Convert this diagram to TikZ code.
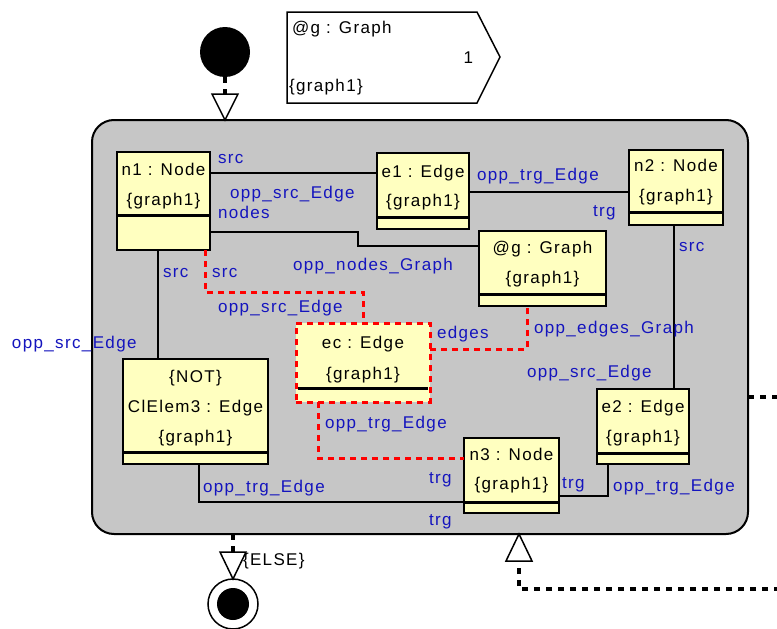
\documentclass[tikz,border=0pt]{standalone}
\usepackage{fontspec}
\newfontfamily\diafont{Liberation Sans}[LetterSpace=8]
\newcommand{\dfont}{\diafont\fontsize{17}{20}\selectfont}
\definecolor{boxyellow}{RGB}{255,255,192}
\definecolor{actgray}{RGB}{198,198,198}
\definecolor{lblue}{RGB}{20,20,190}
\begin{document}
\begin{tikzpicture}[x=1pt,y=-1pt,
 cls/.style={draw=black, line width=1.6pt, fill=boxyellow, inner sep=0pt, outer sep=0pt, anchor=north west},
 clsdash/.style={draw=red, line width=3pt, dash pattern=on 6pt off 5pt, fill=boxyellow, inner sep=0pt, outer sep=0pt, anchor=north west},
 divider/.style={line width=3pt},
 txt/.style={inner sep=0pt, outer sep=0pt, anchor=base, font=\dfont},
 lab/.style={inner sep=0pt, outer sep=0pt, anchor=base west, font=\dfont, text=lblue},
 conn/.style={line width=1.5pt},
 redconn/.style={draw=red, line width=3pt, dash pattern=on 6pt off 5pt},
 trans/.style={line width=3.5pt, dash pattern=on 6pt off 6pt},
 headtri/.style={draw, line width=1.5pt, fill=white, line join=miter}
]
\useasboundingbox (0,0) rectangle (777,629);
\fill[white] (0,0) rectangle (777,629);
\clip (0,0) rectangle (777,629);

% activity box
\node[draw, line width=2pt, fill=actgray, rounded corners=22pt, inner sep=0pt, outer sep=0pt,
  anchor=north west, minimum width=656pt, minimum height=414pt] (act) at (92,120) {};

% header
\draw[line width=1.5pt, fill=white] (287,12) -- (477,12) -- (500,57) -- (477,103) -- (287,103) -- cycle;
\node[txt, anchor=base west] (hg) at (292,34) {@g : Graph};
\node[txt, anchor=base east] (hn) at (473,63) {1};
\node[txt, anchor=base west] (hgr) at (289,91) {\{graph1\}};

% start
\node[circle, fill=black, minimum size=50pt, inner sep=0pt, outer sep=0pt] (start) at (225,52) {};
\coordinate (ta) at (start |- act.north);
\draw[trans] (start.south) -- ([yshift=26pt]ta);
\draw[headtri] (ta) -- ++(-13,-26) -- ++(26,0) -- cycle;

% end
\node[circle, draw, line width=1.5pt, fill=white, minimum size=50pt, inner sep=0pt, outer sep=0pt] (end) at (233,604) {};
\node[circle, fill=black, minimum size=32pt, inner sep=0pt] (endin) at (end) {};
\draw[trans] (end |- act.south) -- ([yshift=27pt]end.north);
\draw[headtri] (end.north) -- ++(-13,-27) -- ++(26,0) -- cycle;
\node[txt, anchor=base west] (else) at (243,565) {\{ELSE\}};

% loop transition on the right
\coordinate (ra) at (519,534);
\draw[trans] (act.east |- 0,397) -- (800,397) -- (800,589) -| ([yshift=-34pt]ra);
\draw[headtri] (ra) -- ++(-13,27) -- ++(26,0) -- cycle;

% class boxes
\node[cls, minimum width=93pt, minimum height=98pt] (n1) at (117,152) {};
\node[cls, minimum width=92pt, minimum height=76pt] (e1) at (377,153) {};
\node[cls, minimum width=94pt, minimum height=75pt] (n2) at (629,150) {};
\node[cls, minimum width=127pt, minimum height=75pt] (gr) at (479,231) {};
\node[cls, minimum width=145pt, minimum height=105pt] (cl) at (123,359) {};
\node[cls, minimum width=95pt, minimum height=75pt] (n3) at (464,438) {};
\node[cls, minimum width=92pt, minimum height=75pt] (e2) at (597,389) {};

% connectors
\draw[conn] ([yshift=-21pt]n1.north east) -- ([yshift=-20pt]e1.north west);
\draw[conn] ([yshift=18pt]n1.south east) -| (358,246) -- ([yshift=-15pt]gr.north west);
\draw[conn] ([yshift=-39pt]e1.north east) -- ([yshift=-42pt]n2.north west);
\draw[conn] ([xshift=-2pt]n2.south) -- ([xshift=31pt]e2.north);
\draw[conn] ([xshift=-35pt]e2.south) |- ([yshift=17pt]n3.south east);
\draw[conn] ([xshift=-5.5pt]n1.south) -- ([xshift=-37.5pt]cl.north);
\draw[conn] ([xshift=3.5pt]cl.south) |- ([yshift=11pt]n3.south west);

% ec box
\node[clsdash, minimum width=134pt, minimum height=79pt] (ec) at (296,323) {};

% red connectors
\draw[redconn] ([xshift=41.5pt]n1.south) -- ++(0,42) -| (ec.north);
\draw[redconn] ([yshift=-26pt]ec.north east) -| ([xshift=-15.5pt]gr.south);
\draw[redconn] ([xshift=-45pt]ec.south) |- ([yshift=-20pt]n3.north west);

% dividers
\draw[divider] ([yshift=35pt]n1.south west) -- ([yshift=35pt]n1.south east);
\draw[divider] ([yshift=12pt]e1.south west) -- ([yshift=12pt]e1.south east);
\draw[divider] ([yshift=13pt]n2.south west) -- ([yshift=13pt]n2.south east);
\draw[divider] ([yshift=12pt]gr.south west) -- ([yshift=12pt]gr.south east);
\draw[divider] ([xshift=2pt,yshift=14pt]ec.south west) -- ([xshift=-2pt,yshift=14pt]ec.south east);
\draw[divider] ([yshift=12pt]cl.south west) -- ([yshift=12pt]cl.south east);
\draw[divider] ([yshift=11pt]n3.south west) -- ([yshift=11pt]n3.south east);
\draw[divider] ([yshift=11pt]e2.south west) -- ([yshift=11pt]e2.south east);

% box texts
\node[txt] (n1a) at (163.5,175) {n1 : Node};
\node[txt] (n1b) at (163.5,205) {\{graph1\}};
\node[txt] (e1a) at (423,177.5) {e1 : Edge};
\node[txt] (e1b) at (423,206.5) {\{graph1\}};
\node[txt] (n2a) at (676,171.5) {n2 : Node};
\node[txt] (n2b) at (676,201.5) {\{graph1\}};
\node[txt] (gra) at (542.5,253.5) {@g : Graph};
\node[txt] (grb) at (542.5,283.5) {\{graph1\}};
\node[txt] (eca) at (363,348.5) {ec : Edge};
\node[txt] (ecb) at (363,379.5) {\{graph1\}};
\node[txt] (cla) at (195.5,382.5) {\{NOT\}};
\node[txt] (clb) at (195.5,412.5) {ClElem3 : Edge};
\node[txt] (clc) at (195.5,442.5) {\{graph1\}};
\node[txt] (n3a) at (511.5,460.5) {n3 : Node};
\node[txt] (n3b) at (511.5,489.5) {\{graph1\}};
\node[txt] (e2a) at (643,412.5) {e2 : Edge};
\node[txt] (e2b) at (643,442.5) {\{graph1\}};

% labels
\node[lab] (l1) at (218,163) {src};
\node[lab] (l2) at (230,198) {opp\_src\_Edge};
\node[lab] (l3) at (218,218) {nodes};
\node[lab] (l4) at (163,277) {src};
\node[lab] (l5) at (212,277) {src};
\node[lab] (l6) at (293,270) {opp\_nodes\_Graph};
\node[lab] (l7) at (218,312) {opp\_src\_Edge};
\node[lab] (l8) at (12,348) {opp\_src\_Edge};
\node[lab] (l9) at (477,180) {opp\_trg\_Edge};
\node[lab] (l10) at (593,216) {trg};
\node[lab] (l11) at (679,251) {src};
\node[lab] (l12) at (437,338) {edges};
\node[lab] (l13) at (534,333) {opp\_edges\_Graph};
\node[lab] (l14) at (527,377) {opp\_src\_Edge};
\node[lab] (l15) at (325,428) {opp\_trg\_Edge};
\node[lab] (l16) at (429,483) {trg};
\node[lab] (l17) at (562,488) {trg};
\node[lab] (l18) at (613,491) {opp\_trg\_Edge};
\node[lab] (l19) at (203,492) {opp\_trg\_Edge};
\node[lab] (l20) at (429,525) {trg};
\end{tikzpicture}
\end{document}
